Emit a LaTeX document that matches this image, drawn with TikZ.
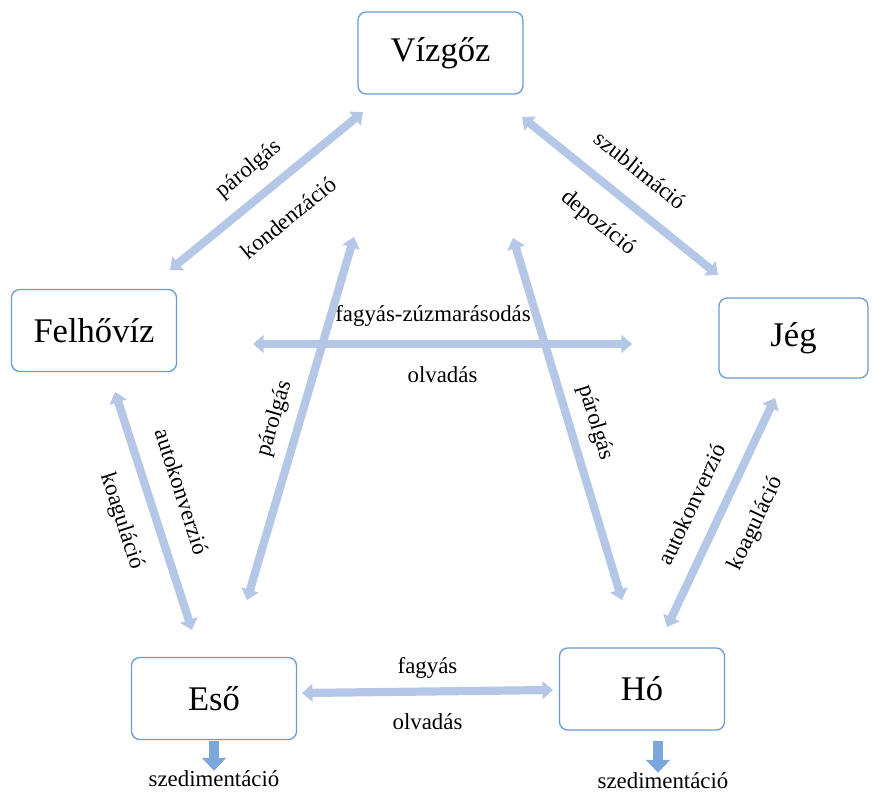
\documentclass[tikz,border=0pt]{standalone}
\usepackage{fontspec}
\setmainfont{Liberation Serif}
\usetikzlibrary{positioning,calc,arrows.meta}
\definecolor{boxblue}{HTML}{6A9BD5}
\definecolor{flowblue}{HTML}{B4C7E7}
\definecolor{dropblue}{HTML}{7BA7DC}
\tikzset{phase/.style={draw=boxblue,line width=1.1pt,rounded corners=7pt,fill=white,inner sep=0pt,minimum width=4.95cm,minimum height=2.46cm,font=\fontsize{29.5}{32}\selectfont}  }
\tikzset{flow/.style={draw=flowblue,line width=7pt,{Triangle[width=15pt,length=9pt]}-{Triangle[width=15pt,length=9pt]}}  }
\tikzset{lbl/.style={inner sep=0pt,text height=13pt,text depth=4pt,font=\fontsize{19.5}{21}\selectfont}  }
\tikzset{drop/.style={draw=dropblue,line width=9pt,-{Triangle[width=20pt,length=11pt]}}  }

\begin{document}
\begin{tikzpicture}[x=0.03cm,y=-0.03cm]
	\useasboundingbox (0,0) rectangle (872,792);
		\node[phase] (viz) at (440.5,53) {Vízgőz};
		\node[phase] (felho) at (94,330.5) {Felhővíz};
		\node[phase,minimum width=4.47cm,minimum height=2.4cm] (jeg) at (793.5,338) {Jég};
		\node[phase] (eso) at (214,698.5) {Eső};
		\node[phase] (ho) at (642,689) {Hó};
			\coordinate (vf) at (363,112);
			\coordinate (fv) at (170,270);
			\coordinate (vj) at (522,117);
			\coordinate (jv) at (718,275);
			\coordinate (fj) at (253,344);
			\coordinate (jf) at (632,344);
			\coordinate (fe) at (115,392);
			\coordinate (ef) at (192,630);
			\coordinate (ev) at (247,600);
			\coordinate (ve) at (354,237);
			\coordinate (hv) at (622,600);
			\coordinate (vh) at (513,238);
			\coordinate (hj) at (667,627);
			\coordinate (jh) at (775,398);
			\coordinate (eh) at (302,693);
			\coordinate (he) at (553,690);
	\draw[flow] (fv) -- node[lbl,sloped,above=11.5pt]{párolgás} node[lbl,sloped,below=19.5pt]{kondenzáció}(vf);
	\draw[flow] (vj) -- node[lbl,sloped,above=14pt]{szublimáció} node[lbl,sloped,below=18pt]{depozíció}(jv);
	\draw[flow] (fj) -- node[lbl,pos=0.475,above=12pt]{fagyás-zúzmarásodás} node[lbl,below=16pt]{olvadás}(jf);
	\draw[flow] (fe) -- node[lbl,sloped,pos=0.46,above=14pt]{autokonverzió} node[lbl,sloped,below=17pt]{koaguláció}(ef);
	\draw[flow] (ev) -- node[lbl,sloped,pos=0.48,above=9pt]{párolgás}(ve);
	\draw[flow] (vh) -- node[lbl,sloped,pos=0.53,above=9.5pt]{párolgás}(hv);
	\draw[flow] (hj) -- node[lbl,sloped,pos=0.48,above=11.5pt]{autokonverzió} node[lbl,sloped,pos=0.52,below=19.5pt]{koaguláció}(jh);
	\draw[flow] (eh) -- node[lbl,above=7.5pt]{fagyás} node[lbl,below=16pt]{olvadás}(he);
		\node[lbl] (szE) at (214,781) {szedimentáció};
		\node[lbl] (szH) at (663,783) {szedimentáció};
		\coordinate (hoDrop) at (658,741);
	\draw[drop,shorten <=1pt] (eso.south) -- (eso.south |- szE.north);
	\draw[drop] (hoDrop) -- (hoDrop |- szH.north);
\end{tikzpicture}
\end{document}
